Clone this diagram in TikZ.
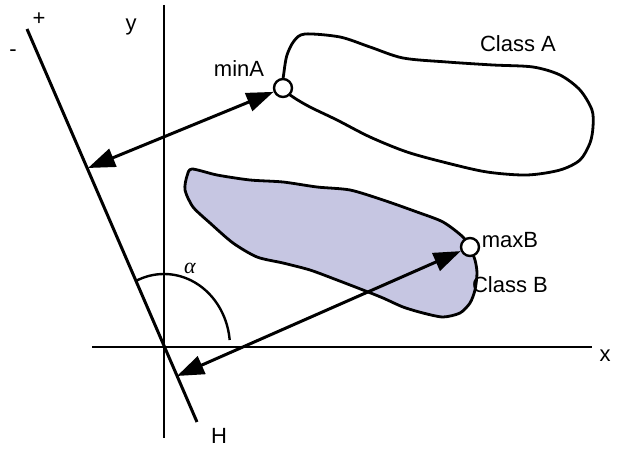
\documentclass[tikz,border=0pt]{standalone}
\usepackage{fontspec}
\setmainfont{Liberation Sans}
\newfontfamily\grk{Liberation Serif}
\usetikzlibrary{arrows.meta}
\definecolor{blobfill}{RGB}{198,198,226}
\tikzset{
  axis/.style={line width=2.4pt},
  hline/.style={line width=3pt},
  blob/.style={line width=2.8pt, line join=round},
  dist/.style={line width=3pt, {Triangle[length=27pt,width=19pt]}-{Triangle[length=27pt,width=19pt]}},
  pt/.style={circle, draw, line width=2.4pt, fill=white, minimum size=18pt, inner sep=0pt},
  lbl/.style={font=\fontsize{22}{26}\selectfont, inner sep=0pt}
}
\begin{document}
\begin{tikzpicture}[x=1pt,y=-1pt]
\useasboundingbox (0,0) rectangle (625,449);
% Class B blob
\draw[blob, fill=blobfill] plot[smooth cycle, tension=0.45] coordinates {
 (192,169) (217,175) (250,180) (283,182) (317,187) (350,190) (383,200) (417,212)
 (443,222) (463,237) (470,248) (475,260) (477,273) (475,290) (470,303) (460,313)
 (443,317) (423,313) (403,307) (383,298) (363,290) (337,280) (310,270) (283,263)
 (257,257) (233,243) (210,223) (193,207) (185,190) (187,176)};
% Class A blob
\draw[blob] plot[smooth cycle, tension=0.5] coordinates {
 (283,88) (284,72) (287,55) (294,41) (305,34) (340,37) (370,47) (403,58) (447,62)
 (493,65) (533,67) (560,75) (580,90) (592,110) (593,127) (590,143) (580,160)
 (560,170) (527,175) (487,172) (447,163) (407,152) (370,137) (337,120) (310,107)
 (293,97)};
% axes
\coordinate (O) at (164,347);
\coordinate (ytop) at (164,5);
\coordinate (ybot) at (164,438);
\coordinate (xl) at (92,347);
\coordinate (xr) at (592,347);
\draw[axis] (ytop) -- (ybot);
\draw[axis] (xl) -- (xr);
% hyperplane H
\coordinate (Htop) at (27,29);
\coordinate (Hbot) at (197,422);
\draw[hline] (Htop) -- (Hbot);
% angle alpha
\draw[line width=2.4pt] (O) ++(-5.5:66 and 73) arc[start angle=-5.5, end angle=-115, x radius=66, y radius=73];
% points
\node[pt] (minA) at (283,88) {};
\node[pt] (maxB) at (470,247) {};
% foot points on H
\coordinate (hA) at (88,168);
\coordinate (hB) at (177,376);
\draw[dist] (hA) -- (minA);
\draw[dist] (hB) -- (maxB);
% labels
\node[lbl] (ly) at (131,27) {y};
\node[lbl] (lx) at (605,356) {x};
\node[lbl] (lplus) at (39,19) {+};
\node[lbl] (lminus) at (13,53) {-};
\node[lbl] (lH) at (219,436) {H};
\node[lbl] (lalpha) at (190,268) {\grk\itshape α};
\node[lbl] (lminA) at (239,69) {minA};
\node[lbl] (lmaxB) at (510,240) {maxB};
\node[lbl] (lA) at (518,44) {Class A};
\node[lbl] (lB) at (510,285) {Class B};
\end{tikzpicture}
\end{document}
